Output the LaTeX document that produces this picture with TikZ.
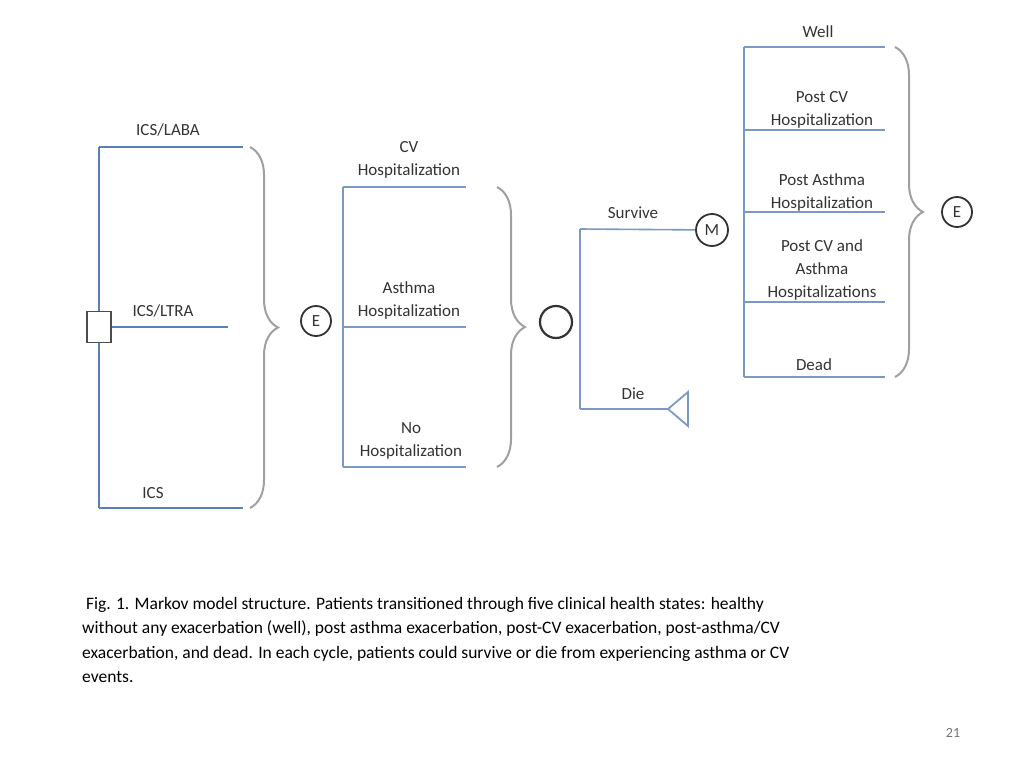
\documentclass[tikz,border=0pt]{standalone}
\usepackage{fontspec}
\setmainfont{Carlito}
\usetikzlibrary{decorations.pathreplacing, positioning}
\definecolor{branch}{HTML}{5A7FB5}
\definecolor{bracegray}{HTML}{A0A0A0}
\begin{document}
\begin{tikzpicture}[
						x=1pt, y=-1pt,
						every node/.style={font=\fontsize{17}{23}\selectfont, align=center, text=black!80},
						arm/.style={draw=branch, line width=2.6pt},
						armthin/.style={draw=branch!80, line width=1.6pt},
						curly/.style={draw=bracegray, line width=2pt, decorate, decoration={brace, amplitude=28pt}},
						chance/.style={draw=black!80, circle, line width=1.8pt, inner sep=0pt, minimum size=30pt}
				]
    \useasboundingbox (0,0) rectangle (1024,768);

    % decision node and treatment arms
    \draw[arm] (99,147) -- (99,508);
    \coordinate (LABAend) at (243,147);
    \coordinate (LTRAend) at (228,327);
    \coordinate (ICSend) at (243,508);
    \draw[arm] (99,147) -- (LABAend);
    \draw[arm] (99,508) -- (ICSend);
    \node (Decision) [draw=black!70, fill=white, line width=1.8pt, minimum width=24pt, minimum height=31pt, inner sep=0pt] at (99,327) {};
    \draw[arm] (Decision) -- (LTRAend);
    \node (LABA) at (168,130) {ICS/LABA};
    \node (LTRA) at (163,311) {ICS/LTRA};
    \node (ICS) at (153,493) {ICS};
    \draw[curly] (250,147) -- (250,508);
    \node (Event1) [chance] at (316,321) {E};

    % hospitalization branches
    \draw[armthin] (343,187) -- (343,467);
    \foreach \y in {187,327,467} \draw[armthin] (343,\y) -- (466,\y);
    \node (CVHosp) at (409,160) {CV\\Hospitalization};
    \node (AsthmaHosp) at (409,300) {Asthma\\Hospitalization};
    \node (NoHosp) at (411,441) {No\\Hospitalization};
    \draw[curly] (497,187) -- (497,467);
    \node (Outcome) [chance, minimum size=32pt, line width=2.2pt] at (556,322) {};

    % survival
    \draw[armthin] (580,229) -- (580,409);
    \node (Markov) [chance, minimum size=32pt] at (712,230) {M};
    \coordinate (DieEnd) at (668,409);
    \draw[armthin] (580,229) -- (Markov);
    \draw[armthin] (580,409) -- (DieEnd);
    \draw[draw=branch!80, line width=1.8pt] (DieEnd) -- (688,392) -- (688,426) -- cycle;
    \node (Survive) at (633,213) {Survive};
    \node (Die) at (633,394) {Die};

    % health states
    \draw[armthin] (744,47) -- (744,377);
    \foreach \y in {47,130,212,302,377} \draw[armthin] (744,\y) -- (885,\y);
    \node (Well) at (818,32) {Well};
    \node (PostCV) at (822,110) {Post CV\\Hospitalization};
    \node (PostAsthma) at (822,192) {Post Asthma\\Hospitalization};
    \node (PostBoth) at (822,270) {Post CV and\\Asthma\\Hospitalizations};
    \node (Dead) at (814,365) {Dead};
    \draw[curly] (895,47) -- (895,377);
    \node (Event2) [chance] at (957,212) {E};

    \node (Caption) [anchor=north west, align=left, inner sep=0pt, font=\fontsize{17.5}{24.5}\selectfont, text=black] at (82,597) {\ Fig. 1. Markov model structure. Patients transitioned through five clinical health states: healthy\\without any exacerbation (well), post asthma exacerbation, post-CV exacerbation, post-asthma/CV\\exacerbation, and dead. In each cycle, patients could survive or die from experiencing asthma or CV\\events.};
    \node (Page) [text=black!55, font=\fontsize{14}{16}\selectfont] at (953,733) {21};
  \end{tikzpicture}
\end{document}
